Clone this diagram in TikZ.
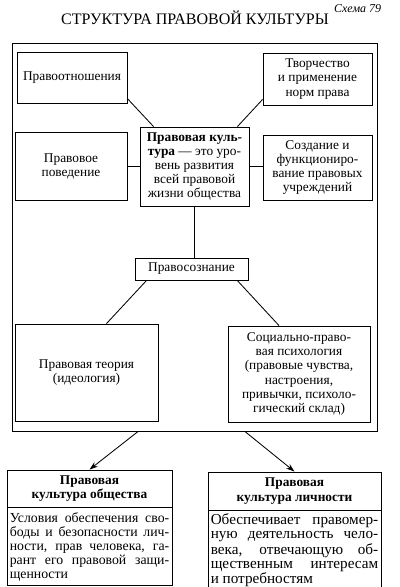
\documentclass[tikz,border=0pt]{standalone}
\usepackage{fontspec}
\setmainfont{Liberation Serif}
\usetikzlibrary{arrows.meta, positioning}

\begin{document}
\begin{tikzpicture}[
  x=0.025cm, y=-0.025cm,
  box/.style={rectangle, draw, line width=0.6pt, inner sep=2pt,
              font=\fontsize{9.5}{10}\selectfont, align=center},
  hdr/.style={box, font=\fontsize{9.5}{10.5}\selectfont\bfseries},
  txt/.style={box, inner sep=2pt, align=justify,
              execute at begin node={\hyphenpenalty=10000\relax\tolerance=9999\relax}},
  con/.style={line width=0.6pt},
  arr/.style={-{Stealth[length=6pt, width=4pt]}, line width=0.6pt}
]
  \useasboundingbox[fill=white] (0,0) rectangle (400,587);

  % Title
  \node[font=\fontsize{8.5}{9}\selectfont\itshape, anchor=north east] (num) at (386,0) {Схема 79};
  \node[font=\fontsize{11.4}{12}\selectfont] (title) at (195,18) {СТРУКТУРА ПРАВОВОЙ КУЛЬТУРЫ};

  % Outer frame
  \node[draw, line width=0.6pt, minimum width=9.125cm, minimum height=9.7cm] (frame) at (194.5,237) {};

  % Upper part
  \node[box, minimum width=2.75cm, minimum height=1.275cm]   (rel)  at (72,77.5)    {Правоотношения};
  \node[box, minimum width=2.725cm, minimum height=1.3cm]    (tvor) at (317.5,79)   {Творчество\\и применение\\норм права};
  \node[box, minimum width=2.8cm, minimum height=1.7cm]      (beh)  at (71,166)     {Правовое\\поведение};
  \node[box, minimum width=2.725cm, minimum height=1.975cm]  (pk)   at (194.5,166.5)
    {\textbf{Правовая куль-}\\\textbf{тура} — это уро-\\вень развития\\всей правовой\\жизни общества};
  \node[box, minimum width=2.725cm, minimum height=1.625cm]  (inst) at (317.5,167.5) {Создание и\\функциониро-\\вание правовых\\учреждений};

  % Lower part
  \node[box, minimum width=2.825cm, minimum height=0.55cm]   (soz)  at (191.5,269)  {Правосознание};
  \node[box, minimum width=3.575cm, minimum height=2.425cm]  (teor) at (86.5,372.5) {Правовая теория\\(идеология)};
  \node[box, minimum width=3.55cm, minimum height=2.4cm]     (psy)  at (299,374)
    {Социально-право-\\вая психология\\(правовые чувства,\\настроения,\\привычки, психоло-\\гический склад)};

  % Society and person
  \node[hdr, minimum width=4.125cm, minimum height=0.925cm]  (obsh) at (89.5,488.5) {Правовая\\культура общества};
  \node[txt, font=\fontsize{9.8}{10}\selectfont, text width=3.985cm, minimum height=1.95cm,
        below=0pt of obsh] (obshtxt)
    {Условия обеспечения сво-\linebreak боды и безопасности лич-\linebreak ности, прав человека, га-\linebreak рант его правовой защи-\linebreak щенности};
  \node[hdr, minimum width=4.325cm, minimum height=0.95cm]   (lich) at (294.5,491) {Правовая\\культура личности};
  \node[txt, font=\fontsize{10.8}{10}\selectfont, text width=4.185cm, minimum height=1.9cm,
        below=0pt of lich] (lichtxt)
    {Обеспечивает правомер-\linebreak ную деятельность чело-\linebreak века, отвечающую об-\linebreak щественным интересам\linebreak и потребностям};

  % Lines
  \draw[con] ([yshift=0.12cm]rel.south east) -- ([xshift=0.35cm]pk.north west);
  \draw[con] ([yshift=0.15cm]tvor.south west) -- ([xshift=-0.3cm]pk.north east);
  \draw[con] (beh.east) -- (beh.east -| pk.west);
  \draw[con] (pk.east) -- (pk.east -| inst.west);
  \draw[con] (pk.south) -- (pk.south |- soz.north);
  \draw[con] ([xshift=0.3cm]soz.south west) -- ([xshift=0.5cm]teor.north);
  \draw[con] ([xshift=-0.28cm]soz.south east) -- ([xshift=-0.5cm]psy.north);

  % Arrows
  \draw[arr] ([xshift=-1.41cm]frame.south) -- (obsh.north);
  \draw[arr] ([xshift=1.26cm]frame.south) -- (lich.north);
\end{tikzpicture}
\end{document}
